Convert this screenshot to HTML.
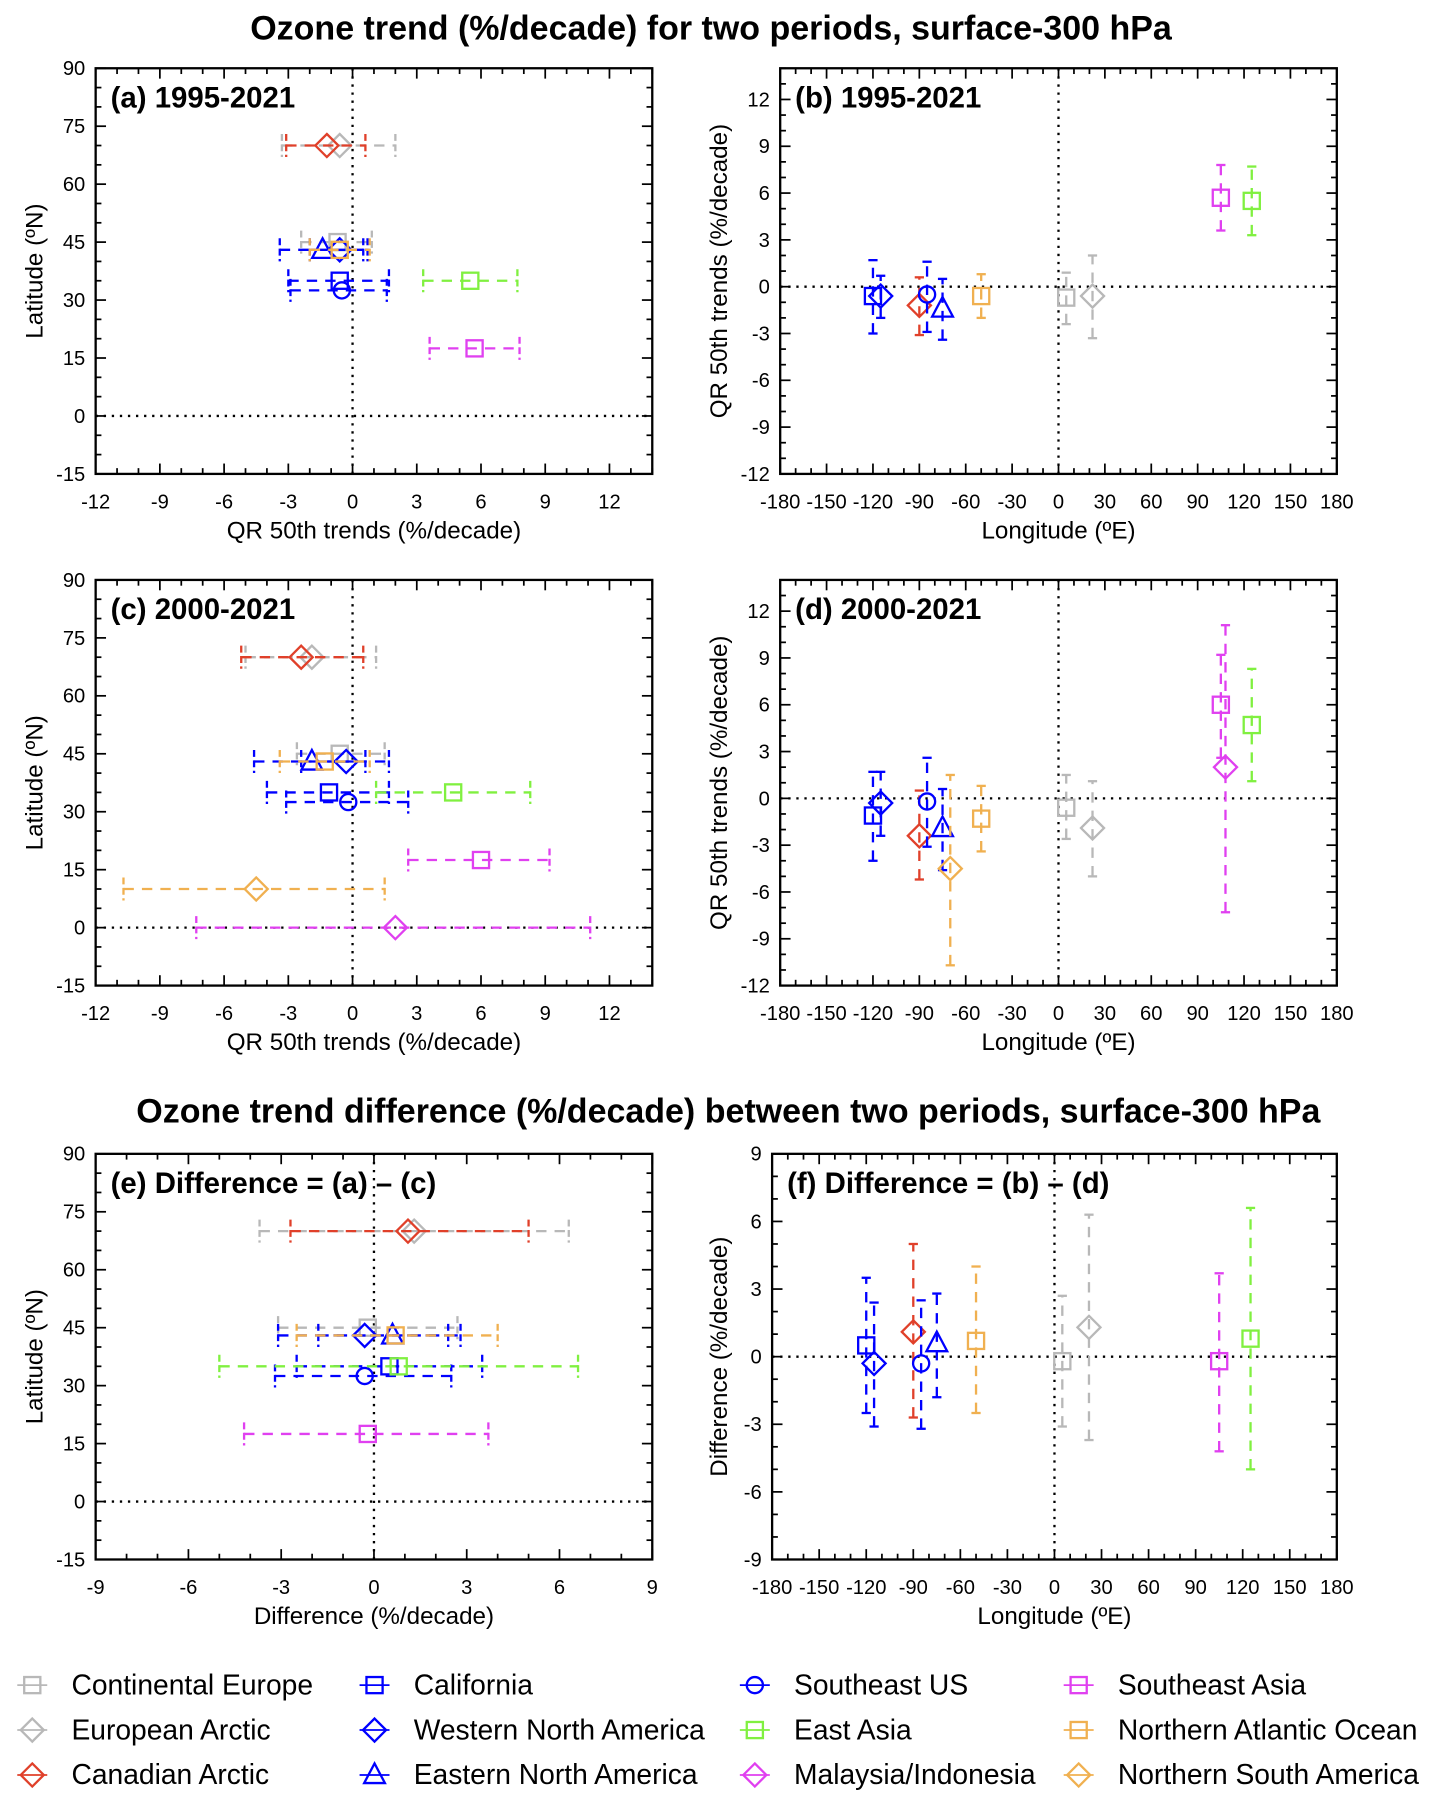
<!DOCTYPE html>
<html><head><meta charset="utf-8"><style>
html,body{margin:0;padding:0;background:#fff}
svg{display:block}
text{font-family:"Liberation Sans",Arial,sans-serif}
</style></head><body>
<svg id="fig" width="1429" height="1796" viewBox="0 0 1240 1558" xmlns="http://www.w3.org/2000/svg">
<text x="617" y="34" text-anchor="middle" font-size="29.5" font-weight="bold">Ozone trend (%/decade) for two periods, surface-300 hPa</text>
<text x="632" y="974" text-anchor="middle" font-size="29.5" font-weight="bold">Ozone trend difference (%/decade) between two periods, surface-300 hPa</text>
<g id="plots"></g>
<g id="legend"></g>
</svg>
<script>
const regions = ["Continental Europe","European Arctic","Canadian Arctic","California","Western North America","Eastern North America","Southeast US","East Asia","Malaysia/Indonesia","Southeast Asia","Northern Atlantic Ocean","Northern South America"];
const colors = ["#b8b8b8","#b8b8b8","#e0402a","#0000ff","#0000ff","#0000ff","#0000ff","#80f040","#e040f0","#e040f0","#f0b050","#f0b050"];
const markers = ["square","diamond","diamond","square","diamond","triangle","circle","square","diamond","square","square","diamond"];
const lats = [45,70,70,35,43,43,32.5,35,0,17.5,43,10];
const lons = [5,22,-90,-120,-115,-75,-85,125,108,105,-50,-70];
const trend1 = [-0.7,-0.6,-1.2,-0.6,-0.6,-1.4,-0.5,5.5,null,5.7,-0.6,null];
const lo1 = [-2.4,-3.3,-3.1,-3.0,-2.0,-3.4,-2.9,3.3,null,3.6,-2.0,null];
const hi1 = [0.9,2.0,0.6,1.7,0.7,0.5,1.6,7.7,null,7.8,0.8,null];
const trend2 = [-0.6,-1.9,-2.4,-1.1,-0.3,-1.9,-0.2,4.7,2.0,6.0,-1.3,-4.5];
const lo2 = [-2.6,-5.0,-5.2,-4.0,-2.4,-4.6,-3.1,1.1,-7.3,2.6,-3.4,-10.7];
const hi2 = [1.5,1.1,0.5,1.7,1.7,0.6,2.6,8.3,11.1,9.2,0.8,1.5];
const diff = [-0.2,1.3,1.1,0.5,-0.3,0.6,-0.3,0.8,null,-0.2,0.7,null];
const loD = [-3.1,-3.7,-2.7,-2.5,-3.1,-1.8,-3.2,-5.0,null,-4.2,-2.5,null];
const hiD = [2.7,6.3,5.0,3.5,2.4,2.8,2.5,6.6,null,3.7,4.0,null];
const trendTicks = [-12,-9,-6,-3,0,3,6,9,12];
const diffTicks = [-9,-6,-3,0,3,6,9];
const latTicks = [-15,0,15,30,45,60,75,90];
const lonTicks = [-180,-150,-120,-90,-60,-30,0,30,60,90,120,150,180];
const trendYTicks = [-12,-9,-6,-3,0,3,6,9,12];

const NS="http://www.w3.org/2000/svg";
const root=document.getElementById('plots');
function mk(tag,attrs,parent){const e=document.createElementNS(NS,tag);for(const k in attrs)e.setAttribute(k,attrs[k]);(parent||root).appendChild(e);return e;}

function marker(g,type,cx,cy,col){
  let e;
  if(type==="square"){e=mk('rect',{x:cx-7,y:cy-7,width:14,height:14,fill:'none',stroke:col,'stroke-width':2},g);}
  else if(type==="diamond"){e=mk('polygon',{points:`${cx},${cy-10} ${cx+10},${cy} ${cx},${cy+10} ${cx-10},${cy}`,fill:'none',stroke:col,'stroke-width':2},g);}
  else if(type==="triangle"){e=mk('polygon',{points:`${cx},${cy-10} ${cx+9},${cy+7} ${cx-9},${cy+7}`,fill:'none',stroke:col,'stroke-width':2},g);}
  else {e=mk('circle',{cx:cx,cy:cy,r:7,fill:'none',stroke:col,'stroke-width':2},g);}
  
  
}

function panel(cfg){
  const g=mk('g',{});
  
  
  const {L,R,T,B,x0,x1,y0,y1}=cfg;
  const sx=v=>L+(v-x0)/(x1-x0)*(R-L);
  const sy=v=>B-(v-y0)/(y1-y0)*(B-T);
  const zx=mk('line',{x1:sx(0),x2:sx(0),y1:T,y2:B,stroke:'#000','stroke-width':2,'stroke-dasharray':'2 5'},g);
  
  
  const zy=mk('line',{x1:L,x2:R,y1:sy(0),y2:sy(0),stroke:'#000','stroke-width':2,'stroke-dasharray':'2 5'},g);
  
  
  for(let v=x0; v<=x1+1e-9; v+=cfg.xminor){
    const major=Math.abs(((v-cfg.xticks[0])/cfg.xmajor)-Math.round((v-cfg.xticks[0])/cfg.xmajor))<1e-6;
    const len=major?9:5;
    mk('line',{x1:sx(v),x2:sx(v),y1:B,y2:B-len,stroke:'#000','stroke-width':1.5},g);
    mk('line',{x1:sx(v),x2:sx(v),y1:T,y2:T+len,stroke:'#000','stroke-width':1.5},g);
  }
  for(let v=y0; v<=y1+1e-9; v+=cfg.yminor){
    const major=Math.abs(((v-cfg.yticks[0])/cfg.ymajor)-Math.round((v-cfg.yticks[0])/cfg.ymajor))<1e-6;
    const len=major?9:5;
    mk('line',{x1:L,x2:L+len,y1:sy(v),y2:sy(v),stroke:'#000','stroke-width':1.5},g);
    mk('line',{x1:R,x2:R-len,y1:sy(v),y2:sy(v),stroke:'#000','stroke-width':1.5},g);
  }
  const fr=mk('rect',{x:L,y:T,width:R-L,height:B-T,fill:'none',stroke:'#000','stroke-width':2},g);
  
  
  cfg.xticks.forEach(v=>{const t=mk('text',{x:sx(v),y:B+30,'text-anchor':'middle','font-size':17.5},g);t.textContent=v;
    
    });
  cfg.yticks.forEach(v=>{const t=mk('text',{x:L-9,y:sy(v)+6,'text-anchor':'end','font-size':17.5},g);t.textContent=v;
    
    });
  const xt=mk('text',{x:(L+R)/2,y:B+56,'text-anchor':'middle','font-size':21},g);xt.textContent=cfg.xtitle;
  
  
  const yt=mk('text',{x:0,y:0,'text-anchor':'middle','font-size':21,transform:`translate(${cfg.ytx},${(T+B)/2}) rotate(-90)`},g);yt.textContent=cfg.ytitle;
  
  
  const pl=mk('text',{x:L+13,y:T+34,'font-size':25.5,'font-weight':'bold'},g);pl.textContent=cfg.label;
  
  
  for(let i=0;i<regions.length;i++){
    const v=cfg.val[i]; if(v===null) continue;
    const col=colors[i];
    const sg=mk('g',{},g);
    
    
    if(cfg.horiz){
      const cy=sy(lats[i]); const a=sx(cfg.lo[i]), b=sx(cfg.hi[i]);
      mk('line',{x1:a,x2:b,y1:cy,y2:cy,stroke:col,'stroke-width':2,'stroke-dasharray':'9 7'},sg);
      mk('line',{x1:a,x2:a,y1:cy-10,y2:cy+10,stroke:col,'stroke-width':2,'stroke-dasharray':'6 3'},sg);
      mk('line',{x1:b,x2:b,y1:cy-10,y2:cy+10,stroke:col,'stroke-width':2,'stroke-dasharray':'6 3'},sg);
      marker(sg,markers[i],sx(v),cy,col);
    } else {
      const cx=sx(lons[i]); const a=sy(cfg.lo[i]), b=sy(cfg.hi[i]);
      mk('line',{x1:cx,x2:cx,y1:a,y2:b,stroke:col,'stroke-width':2,'stroke-dasharray':'9 7'},sg);
      mk('line',{x1:cx-4,x2:cx+4,y1:a,y2:a,stroke:col,'stroke-width':2},sg);
      mk('line',{x1:cx-4,x2:cx+4,y1:b,y2:b,stroke:col,'stroke-width':2},sg);
      marker(sg,markers[i],cx,sy(v),col);
    }
  }
}
const A={x0:-12,x1:14,xminor:1,xmajor:3,xticks:trendTicks,y0:-15,y1:90,yminor:5,ymajor:15,yticks:latTicks,xtitle:"QR 50th trends (%/decade)",ytitle:"Latitude (ºN)",ytx:37,horiz:true,L:83,R:566};
const Bc={x0:-180,x1:180,xminor:10,xmajor:30,xticks:lonTicks,y0:-12,y1:14,yminor:1,ymajor:3,yticks:trendYTicks,xtitle:"Longitude (ºE)",ytitle:"QR 50th trends (%/decade)",ytx:631,horiz:false,L:677,R:1160};
panel(Object.assign({},A,{name:'panel-a',T:59,B:411,label:"(a) 1995-2021",val:trend1,lo:lo1,hi:hi1}));
panel(Object.assign({},Bc,{name:'panel-b',T:59,B:411,label:"(b) 1995-2021",val:trend1,lo:lo1,hi:hi1}));
panel(Object.assign({},A,{name:'panel-c',T:503,B:855,label:"(c) 2000-2021",val:trend2,lo:lo2,hi:hi2}));
panel(Object.assign({},Bc,{name:'panel-d',T:503,B:855,label:"(d) 2000-2021",val:trend2,lo:lo2,hi:hi2}));
panel(Object.assign({},A,{name:'panel-e',x0:-9,x1:9,xticks:diffTicks,T:1001,B:1353,xtitle:"Difference (%/decade)",label:"(e) Difference = (a) – (c)",val:diff,lo:loD,hi:hiD}));
panel(Object.assign({},Bc,{name:'panel-f',L:670,y0:-9,y1:9,yticks:diffTicks,T:1001,B:1353,ytitle:"Difference (%/decade)",label:"(f) Difference = (b) – (d)",val:diff,lo:loD,hi:hiD}));

const lg=document.getElementById('legend');
const legCols=[[0,1,2],[3,4,5],[6,7,8],[9,10,11]];
const colX=[28,325,655,936];
const rowY=[1462,1501,1540];
legCols.forEach((c,ci)=>c.forEach((idx,ri)=>{
  const g=mk('g',{},lg);
  
  
  const x=colX[ci], y=rowY[ri];
  mk('line',{x1:x-13,x2:x+13,y1:y,y2:y,stroke:colors[idx],'stroke-width':1.5},g);
  marker(g,markers[idx],x,y,colors[idx]);
  const t=mk('text',{x:x+34,y:y+8,'font-size':24.5},g);t.textContent=regions[idx];
  
  
}));
</script>
</body></html>
